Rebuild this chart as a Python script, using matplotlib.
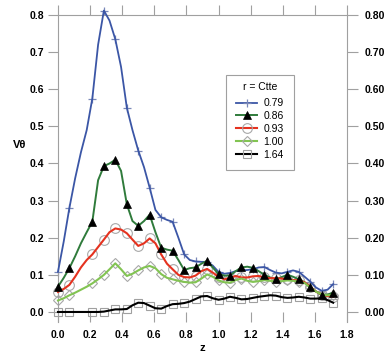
import matplotlib
matplotlib.use("Agg")
import matplotlib.pyplot as plt
from matplotlib.lines import Line2D

plt.rcParams['font.family'] = ['Liberation Sans', 'DejaVu Sans']

# z grid (step 1/28)
z = [0.0, 0.036, 0.071, 0.107, 0.143, 0.179, 0.214, 0.25, 0.286, 0.321,
     0.357, 0.393, 0.429, 0.464, 0.5, 0.536, 0.571, 0.607, 0.643, 0.679,
     0.714, 0.75, 0.786, 0.821, 0.857, 0.893, 0.929, 0.964, 1.0, 1.036,
     1.071, 1.107, 1.143, 1.179, 1.214, 1.25, 1.286, 1.321, 1.357, 1.393,
     1.429, 1.464, 1.5, 1.536, 1.571, 1.607, 1.643, 1.679, 1.714]

v_079 = [0.108, 0.19, 0.28, 0.36, 0.43, 0.49, 0.575, 0.72, 0.812, 0.785,
         0.735, 0.66, 0.55, 0.49, 0.435, 0.39, 0.335, 0.275, 0.255, 0.248,
         0.243, 0.20, 0.155, 0.14, 0.136, 0.135, 0.135, 0.125, 0.108, 0.103,
         0.105, 0.11, 0.112, 0.113, 0.115, 0.12, 0.121, 0.113, 0.106, 0.104,
         0.108, 0.112, 0.108, 0.095, 0.082, 0.066, 0.057, 0.06, 0.075]

v_086 = [0.068, 0.092, 0.118, 0.15, 0.185, 0.215, 0.243, 0.355, 0.393, 0.40,
         0.41, 0.38, 0.29, 0.245, 0.232, 0.245, 0.262, 0.215, 0.173, 0.168,
         0.165, 0.14, 0.113, 0.118, 0.12, 0.13, 0.138, 0.12, 0.102, 0.098,
         0.098, 0.11, 0.12, 0.122, 0.119, 0.11, 0.10, 0.093, 0.088, 0.094,
         0.10, 0.095, 0.088, 0.08, 0.067, 0.055, 0.046, 0.047, 0.052]

v_093 = [0.054, 0.062, 0.073, 0.095, 0.12, 0.14, 0.155, 0.175, 0.195, 0.215,
         0.225, 0.222, 0.212, 0.195, 0.178, 0.185, 0.198, 0.185, 0.155, 0.13,
         0.115, 0.10, 0.094, 0.093, 0.098, 0.11, 0.116, 0.106, 0.095, 0.088,
         0.092, 0.097, 0.093, 0.093, 0.096, 0.097, 0.093, 0.091, 0.091, 0.09,
         0.088, 0.086, 0.085, 0.08, 0.068, 0.055, 0.047, 0.043, 0.041]

v_100 = [0.031, 0.037, 0.045, 0.052, 0.06, 0.068, 0.077, 0.088, 0.10, 0.115,
         0.131, 0.115, 0.097, 0.103, 0.112, 0.12, 0.124, 0.118, 0.102, 0.092,
         0.088, 0.084, 0.081, 0.079, 0.08, 0.09, 0.101, 0.095, 0.085, 0.08,
         0.079, 0.086, 0.09, 0.084, 0.081, 0.083, 0.086, 0.084, 0.082, 0.083,
         0.085, 0.084, 0.082, 0.078, 0.066, 0.055, 0.047, 0.045, 0.046]

v_164 = [0.0, 0.0, 0.0, 0.0, 0.0, 0.0, 0.0, 0.0, 0.001, 0.004,
         0.007, 0.007, 0.008, 0.018, 0.025, 0.024, 0.017, 0.01, 0.009, 0.016,
         0.021, 0.022, 0.024, 0.028, 0.035, 0.042, 0.043, 0.037, 0.033, 0.036,
         0.041, 0.038, 0.034, 0.035, 0.038, 0.041, 0.043, 0.045, 0.044, 0.04,
         0.038, 0.039, 0.041, 0.039, 0.036, 0.036, 0.037, 0.032, 0.025]

labels = ['0.79', '0.86', '0.93', '1.00', '1.64']
xticks = [0.0, 0.2, 0.4, 0.6, 0.8, 1.0, 1.2, 1.4, 1.6, 1.8]
yticks = [0.0, 0.1, 0.2, 0.3, 0.4, 0.5, 0.6, 0.7, 0.8]

# markers every 1/14, the point at z=0.143 is missing in the source
marks = [0, 2] + list(range(6, 49, 2))

series = [
    (v_079, '#3b56a6', 1.3, dict(marker='+', ms=6, mec='#7a88b8', mfc='none', mew=0.9)),
    (v_086, '#2f7b3b', 1.4, dict(marker='^', ms=6, mec='black', mfc='black', mew=0.5)),
    (v_093, '#e5321f', 1.5, dict(marker='o', ms=7, mec='#a8a8a8', mfc='none', mew=0.8)),
    (v_100, '#82c452', 1.5, dict(marker='D', ms=5, mec='#a8a8a8', mfc='none', mew=0.8)),
    (v_164, 'black', 1.5, dict(marker='s', ms=6, mec='#a0a0a0', mfc='none', mew=0.8)),
]

fig = plt.figure(figsize=(3.89, 3.54), dpi=100)
ax = fig.add_axes([0.149, 0.0904, 0.743, 0.8672])

handles = []
for i, (v, col, lw, mk) in enumerate(series):
    mz = 6 if mk['marker'] == '^' else 2
    ax.plot([z[k] for k in marks], [v[k] for k in marks], ls='none',
            zorder=mz, clip_on=False, **mk)
    ax.plot(z, v, color=col, lw=lw, zorder=3 + 0.1 * i, clip_on=False,
            solid_joinstyle='round')
    handles.append(Line2D([], [], color=col, lw=lw, **mk))

ax.set_xlim(0, 1.8)
ax.set_ylim(-0.027, 0.8)

gray = '#a0a0a0'
for s in ['left', 'right', 'top']:
    ax.spines[s].set_color(gray)
    ax.spines[s].set_linewidth(0.8)
ax.spines['bottom'].set_visible(False)

ax.set_xticks(xticks)
ax.set_xticklabels([f'{t:.1f}' for t in xticks])
ax.set_yticks(yticks)
ax.set_yticklabels([f'{t:.1f}' for t in yticks])
ax.tick_params(axis='x', direction='in', length=7, width=0.8, color=gray,
               pad=6, labelsize=7.5, top=True)
ax.tick_params(axis='x', which='major', labeltop=False)
ax.tick_params(axis='y', direction='out', length=7, width=0.8, color=gray,
               pad=3, labelsize=7.5)
for lab in ax.get_xticklabels() + ax.get_yticklabels():
    lab.set_fontweight('bold')

# top ticks point up, out of the frame
for t in ax.xaxis.get_major_ticks():
    t.tick2line.set_marker(2)
    t.tick2line.set_markersize(7)

ax2 = ax.twinx()
ax2.set_ylim(ax.get_ylim())
ax2.set_yticks(yticks)
ax2.set_yticklabels([f'{t:.2f}' for t in yticks])
ax2.tick_params(axis='y', direction='out', length=8, width=0.8, color=gray,
                pad=5, labelsize=7.5)
for lab in ax2.get_yticklabels():
    lab.set_fontweight('bold')
for s in ax2.spines.values():
    s.set_visible(False)

ax.set_xlabel('z', fontsize=8, fontweight='bold', labelpad=2)
ax.set_ylabel('Vθ', fontsize=8, fontweight='bold', rotation=0)
ax.yaxis.set_label_coords(-0.131, 0.56)

leg = ax.legend(handles, labels, title='r = Ctte', loc='upper left',
                bbox_to_anchor=(0.581, 0.805), fontsize=7.5, title_fontsize=7.5,
                frameon=True, fancybox=False, edgecolor=gray, framealpha=1,
                handlelength=2.0, handletextpad=0.6, labelspacing=0.28,
                borderpad=1.0, borderaxespad=0)
leg.get_frame().set_linewidth(0.8)
leg.get_title().set_position((0, 3))
leg.set_zorder(10)

fig.savefig('out.png', dpi=100)
